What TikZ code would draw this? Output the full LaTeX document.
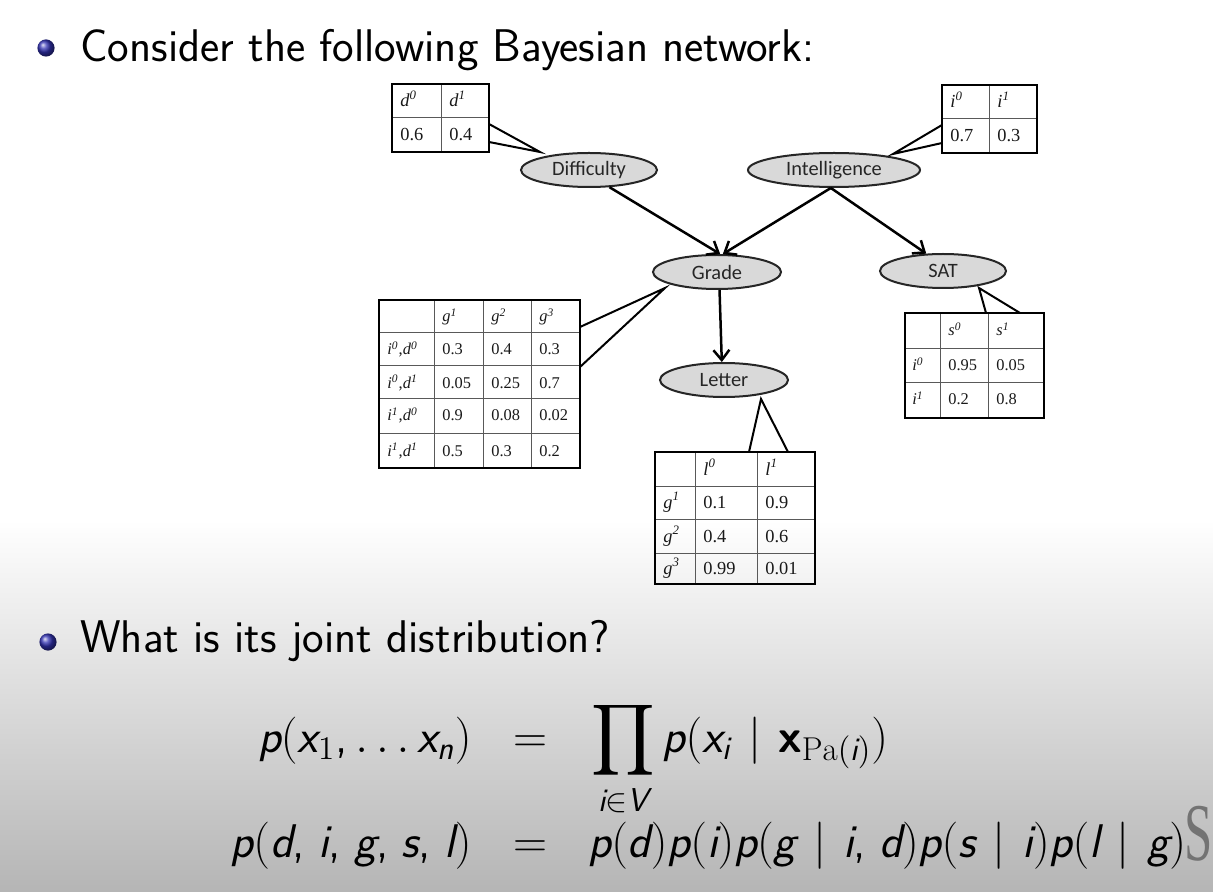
\RequirePackage{fix-cm}
\documentclass[tikz,border=0pt]{standalone}
\usepackage{fontspec}
\usepackage{amsmath}
\usepackage{xcolor}
\usetikzlibrary{arrows.meta,shapes.geometric,calc}
\newfontfamily\labelfont{Carlito}
\newfontfamily\cptfont{Liberation Serif}
\DeclareSymbolFont{sfitletters}{TU}{lmss}{m}{sl}
\DeclareSymbolFont{sfupright}{TU}{lmss}{m}{n}
\DeclareMathAlphabet{\mathsfbold}{TU}{lmss}{bx}{n}
\DeclareMathSymbol{p}{\mathalpha}{sfitletters}{`p}
\DeclareMathSymbol{x}{\mathalpha}{sfitletters}{`x}
\DeclareMathSymbol{n}{\mathalpha}{sfitletters}{`n}
\DeclareMathSymbol{i}{\mathalpha}{sfitletters}{`i}
\DeclareMathSymbol{d}{\mathalpha}{sfitletters}{`d}
\DeclareMathSymbol{g}{\mathalpha}{sfitletters}{`g}
\DeclareMathSymbol{s}{\mathalpha}{sfitletters}{`s}
\DeclareMathSymbol{l}{\mathalpha}{sfitletters}{`l}
\DeclareMathSymbol{V}{\mathalpha}{sfitletters}{`V}
\DeclareMathSymbol{1}{\mathalpha}{sfupright}{`1}
\DeclareMathSymbol{(}{\mathopen}{sfupright}{`(}
\DeclareMathSymbol{)}{\mathclose}{sfupright}{`)}
\DeclareMathSymbol{,}{\mathpunct}{sfupright}{`,}
\definecolor{ballblue}{rgb}{0.2,0.2,0.7}
\newcommand{\sups}[2]{\textit{#1}\textsuperscript{\textit{#2}}}
\newcommand{\gv}{\mkern1.5mu\mid\mkern1.5mu}

\begin{document}
\begin{tikzpicture}[x=0.5pt,y=-0.5pt]
  \tikzset{bnnode/.style={ellipse,draw=black!85,line width=1pt,fill=black!15,inner sep=0pt,minimum height=17pt,text=black!85,font=\labelfont\fontsize{10.2}{12}\selectfont}}
  \tikzset{bnarc/.style={draw=black,line width=1.25pt,-{Straight Barb[length=5pt,width=8pt]}}}
  \tikzset{callout/.style={draw=black,line width=1pt}}
  \tikzset{cptouter/.style={draw=black,line width=1.2pt}}
  \tikzset{cptinner/.style={draw=black!65,line width=0.5pt}}
  \tikzset{cellbig/.style={anchor=base west,inner sep=0pt,text=black!90,font=\cptfont\fontsize{9.2}{11}\selectfont}}
  \tikzset{cellsmall/.style={anchor=base west,inner sep=0pt,text=black!90,font=\cptfont\fontsize{8.2}{10}\selectfont}}
  \tikzset{slidetext/.style={anchor=base west,inner sep=0pt,font=\sffamily\fontsize{22.9}{27}\selectfont}}
  \tikzset{formula/.style={inner sep=0pt,font=\fontsize{23.6}{28}\selectfont}}
  \useasboundingbox (0,0) rectangle (1213,892);
  \fill[white] (0,0) rectangle (1213,892);
  \shade[top color=white,bottom color=black!29] (0,520) rectangle (1213,892);
  \shade[ball color=ballblue] (46,48) circle (4.3pt);
  \node[slidetext] (ttlA) at (80,62) {Consider the following Bayesian network:};
  \node[bnnode,minimum width=68pt] (diff) at (589,170) {Difficulty};
  \node[bnnode,minimum width=86pt] (intl) at (834,170) {Intelligence};
  \node[bnnode,minimum width=64pt] (grade) at (717,272) {Grade};
  \node[bnnode,minimum width=63pt] (sat) at (943,271) {SAT};
  \node[bnnode,minimum width=64pt] (letter) at (724,380) {Letter};
  \draw[bnarc] (diff.-40) -- (grade.80);
  \draw[bnarc] (intl.-100) -- (grade.72);
  \draw[bnarc] (intl.-100) -- (sat.134);
  \draw[bnarc] (grade.-82) -- (letter.97);
  \draw[cptinner] (441,84) -- (441,152) (392,118) -- (489,118);
  \draw[cptouter] (392,84) rectangle (489,152);
  \node[cellbig] (dh0) at (400,107) {\sups{d}{0}};
  \node[cellbig] (dh1) at (449,107) {\sups{d}{1}};
  \node[cellbig] (dv0) at (400,141) {0.6};
  \node[cellbig] (dv1) at (449,141) {0.4};
  \coordinate (dA) at (489,124);
  \coordinate (dB) at (489,142);
  \coordinate (dTip) at (540,152);
  \draw[callout] (dA) -- (dTip) -- (dB);
  \draw[cptinner] (989,85) -- (989,153) (942,119) -- (1037,119);
  \draw[cptouter] (942,85) rectangle (1037,153);
  \node[cellbig] (ih0) at (950,108) {\sups{i}{0}};
  \node[cellbig] (ih1) at (997,108) {\sups{i}{1}};
  \node[cellbig] (iv0) at (950,142) {0.7};
  \node[cellbig] (iv1) at (997,142) {0.3};
  \coordinate (iA) at (942,125);
  \coordinate (iB) at (942,143);
  \coordinate (iTip) at (893,154);
  \draw[callout] (iA) -- (iTip) -- (iB);
  \draw[cptinner] (434,300) -- (434,468) (483,300) -- (483,468) (531,300) -- (531,468)
    (379,333) -- (580,333) (379,366) -- (580,366) (379,399) -- (580,399) (379,433) -- (580,433);
  \draw[cptouter] (379,300) rectangle (580,468);
  \node[cellsmall] (gh1) at (442,322) {\sups{g}{1}};
  \node[cellsmall] (gh2) at (491,322) {\sups{g}{2}};
  \node[cellsmall] (gh3) at (539,322) {\sups{g}{3}};
  \node[cellsmall] (gr1) at (387,355) {\sups{i}{0},\sups{d}{0}};
  \node[cellsmall] (gr2) at (387,388) {\sups{i}{0},\sups{d}{1}};
  \node[cellsmall] (gr3) at (387,421) {\sups{i}{1},\sups{d}{0}};
  \node[cellsmall] (gr4) at (387,456) {\sups{i}{1},\sups{d}{1}};
  \node[cellsmall] (g11) at (442,355) {0.3};
  \node[cellsmall] (g12) at (491,355) {0.4};
  \node[cellsmall] (g13) at (539,355) {0.3};
  \node[cellsmall] (g21) at (442,388) {0.05};
  \node[cellsmall] (g22) at (491,388) {0.25};
  \node[cellsmall] (g23) at (539,388) {0.7};
  \node[cellsmall] (g31) at (442,421) {0.9};
  \node[cellsmall] (g32) at (491,421) {0.08};
  \node[cellsmall] (g33) at (539,421) {0.02};
  \node[cellsmall] (g41) at (442,456) {0.5};
  \node[cellsmall] (g42) at (491,456) {0.3};
  \node[cellsmall] (g43) at (539,456) {0.2};
  \coordinate (gA) at (580,327);
  \coordinate (gB) at (580,367);
  \coordinate (gTip) at (665,288);
  \draw[callout] (gA) -- (gTip) -- (gB);
  \draw[cptinner] (940,313) -- (940,418) (988,313) -- (988,418) (905,349) -- (1044,349) (905,383) -- (1044,383);
  \draw[cptouter] (905,313) rectangle (1044,418);
  \node[cellsmall] (sh0) at (948,336) {\sups{s}{0}};
  \node[cellsmall] (sh1) at (996,336) {\sups{s}{1}};
  \node[cellsmall] (sr0) at (912,371) {\sups{i}{0}};
  \node[cellsmall] (sr1) at (912,405) {\sups{i}{1}};
  \node[cellsmall] (s00) at (948,371) {0.95};
  \node[cellsmall] (s01) at (996,371) {0.05};
  \node[cellsmall] (s10) at (948,405) {0.2};
  \node[cellsmall] (s11) at (996,405) {0.8};
  \coordinate (sA) at (986,313);
  \coordinate (sB) at (1020,313);
  \coordinate (sTip) at (979,288);
  \draw[callout] (sA) -- (sTip) -- (sB);
  \draw[cptinner] (695,452) -- (695,584) (757,452) -- (757,584) (655,486) -- (815,486) (655,519) -- (815,519) (655,553) -- (815,553);
  \draw[cptouter] (655,452) rectangle (815,584);
  \node[cellbig] (lh0) at (703,475) {\sups{l}{0}};
  \node[cellbig] (lh1) at (765,475) {\sups{l}{1}};
  \node[cellbig] (lr1) at (663,508) {\sups{g}{1}};
  \node[cellbig] (lr2) at (663,542) {\sups{g}{2}};
  \node[cellbig] (lr3) at (663,574) {\sups{g}{3}};
  \node[cellbig] (l10) at (703,508) {0.1};
  \node[cellbig] (l11) at (765,508) {0.9};
  \node[cellbig] (l20) at (703,542) {0.4};
  \node[cellbig] (l21) at (765,542) {0.6};
  \node[cellbig] (l30) at (703,574) {0.99};
  \node[cellbig] (l31) at (765,574) {0.01};
  \coordinate (lA) at (749,452);
  \coordinate (lB) at (788,452);
  \coordinate (lTip) at (761,399);
  \draw[callout] (lA) -- (lTip) -- (lB);
  \shade[ball color=ballblue] (48,642) circle (4.3pt);
  \node[slidetext] (ttlB) at (80,652) {What is its joint distribution?};
  \node[formula,anchor=base east] (lhsA) at (472,752) {$p(x_1,\ldots x_n)$};
  \node[formula,anchor=base] (eqA) at (530,752) {$=$};
  \node[formula,anchor=base west] (rhsA) at (591,752) {$\displaystyle\prod_{i\in V} p(x_i\gv \mathsfbold{x}_{\mathrm{Pa}(i)})$};
  \node[formula,anchor=base east] (lhsB) at (472,857) {$p(d,\mkern2mu i,\mkern2mu g,\mkern2mu s,\mkern2mu l)$};
  \node[formula,anchor=base] (eqB) at (530,857) {$=$};
  \node[formula,anchor=base west] (rhsB) at (588,857) {$p(d)p(i)p(g\gv i,\mkern2mu d)p(s\gv i)p(l\gv g)$};
  \node[anchor=base east,inner sep=0pt,text=black!55,font=\cptfont\fontsize{41}{41}\selectfont] (wmS) at (1213,860) {\scalebox{0.62}[1]{S}};
\end{tikzpicture}
\end{document}
